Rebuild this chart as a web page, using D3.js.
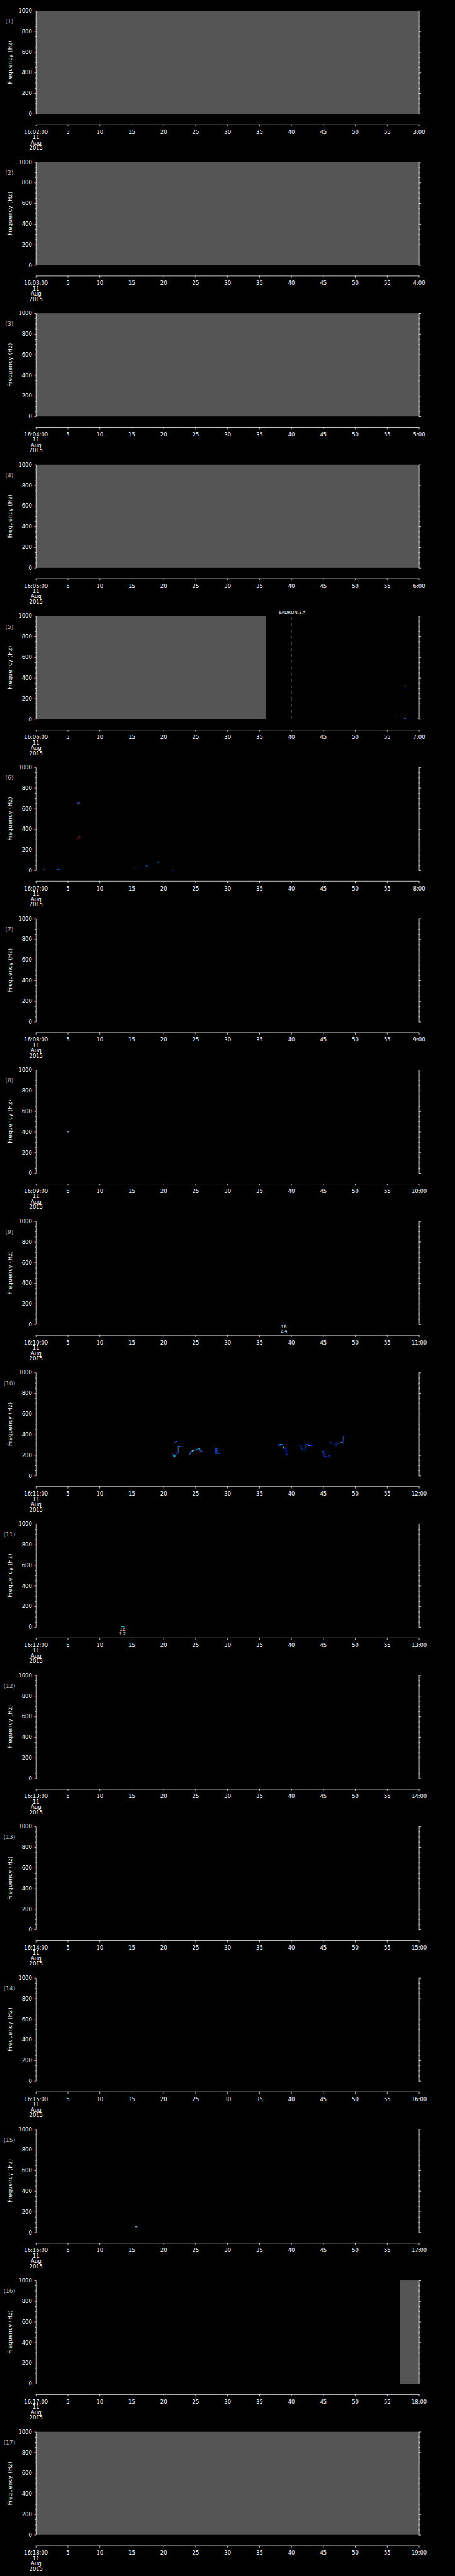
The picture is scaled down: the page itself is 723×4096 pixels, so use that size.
<!DOCTYPE html>
<html>
<head>
<meta charset="utf-8">
<script src="https://cdn.jsdelivr.net/npm/d3@7"></script>
<style>
  html, body { margin: 0; padding: 0; background: #000; }
  svg { display: block; }
  text { font-family: "DejaVu Sans", sans-serif; }
</style>
</head>
<body>
<svg id="chart"></svg>
<script>
// 每个面板的编号、起止时间标签
const panelNames = ["(1)", "(2)", "(3)", "(4)", "(5)", "(6)", "(7)", "(8)", "(9)",
  "(10)", "(11)", "(12)", "(13)", "(14)", "(15)", "(16)", "(17)"];
const startLabels = ["16:02:00", "16:03:00", "16:04:00", "16:05:00", "16:06:00", "16:07:00",
  "16:08:00", "16:09:00", "16:10:00", "16:11:00", "16:12:00", "16:13:00", "16:14:00",
  "16:15:00", "16:16:00", "16:17:00", "16:18:00"];
const endLabels = ["3:00", "4:00", "5:00", "6:00", "7:00", "8:00", "9:00", "10:00", "11:00",
  "12:00", "13:00", "14:00", "15:00", "16:00", "17:00", "18:00", "19:00"];
const dateLines = ["11", "Aug", "2015"];

// x轴刻度（分钟内的秒）与标签
const xTicks = [0, 5, 10, 15, 20, 25, 30, 35, 40, 45, 50, 55, 60];
const xTickLabels = ["", "5", "10", "15", "20", "25", "30", "35", "40", "45", "50", "55", ""];
const yTicks = [0, 200, 400, 600, 800, 1000];

// 无数据区域（灰色）：面板序号, 起, 止
const gaps = [
  { panel: 1, from: 0, to: 60 },
  { panel: 2, from: 0, to: 60 },
  { panel: 3, from: 0, to: 60 },
  { panel: 4, from: 0, to: 60 },
  { panel: 5, from: 0, to: 36 },
  { panel: 16, from: 57, to: 60 },
  { panel: 17, from: 0, to: 60 }
];

// 频谱轨迹：[秒, Hz]
const traces = [
  { panel: 5, color: "#0060ff", pts: [[56.55, 12], [57.2, 12]] },
  { panel: 5, color: "#0080ff", pts: [[57.65, 8], [57.95, 8]] },
  { panel: 5, color: "#ff3000", pts: [[57.72, 324], [57.85, 322]] },
  { panel: 5, color: "#ffff00", pts: [[57.85, 322], [57.95, 321]] },
  { panel: 5, color: "#0000c0", pts: [[59.3, 30], [59.45, 30]] },
  { panel: 5, color: "#00ffff", pts: [[59.9, 5], [60, 5]] },

  { panel: 6, color: "#0080ff", pts: [[6.55, 640], [6.6, 650], [6.75, 655], [6.87, 655]] },
  { panel: 6, color: "#d00000", pts: [[6.46, 305], [6.6, 312], [6.75, 320], [6.92, 327]] },
  { panel: 6, color: "#0060ff", pts: [[1.2, 8], [1.38, 8]] },
  { panel: 6, color: "#0070ff", pts: [[3.29, 8], [3.78, 8]] },
  { panel: 6, color: "#0060ff", pts: [[15.6, 34], [15.85, 34]] },
  { panel: 6, color: "#0070ff", pts: [[17.2, 43], [17.5, 43]] },
  { panel: 6, color: "#0080ff", pts: [[19.05, 73], [19.33, 73]] },
  { panel: 6, color: "#0040ff", pts: [[21.3, 0], [21.5, 0]] },

  { panel: 8, color: "#0000ff", pts: [[4.85, 402], [4.98, 402]] },
  { panel: 8, color: "#ffff00", pts: [[4.98, 400], [5.15, 398]] },

  { panel: 9, color: "#0080ff", pts: [[38.56, 2], [39.05, 2]] },

  { panel: 10, color: "#0060ff", pts: [[21.72, 315], [21.85, 325], [22.13, 332]] },
  { panel: 10, color: "#0070ff", pts: [[21.46, 212], [21.57, 191], [21.84, 191], [21.95, 212], [22.12, 219], [22.3, 219], [22.3, 284], [22.83, 281]] },
  { panel: 10, color: "#00ffff", pts: [[21.57, 191], [21.8, 191]] },
  { panel: 10, color: "#0080ff", pts: [[24.09, 201], [24.29, 236], [24.53, 241], [24.82, 246], [25.11, 252], [25.4, 259], [25.64, 264], [25.75, 245], [26.05, 234]] },
  { panel: 10, color: "#b0ff40", pts: [[24.45, 240], [24.7, 244]] },
  { panel: 10, color: "#00ffff", pts: [[25.5, 262], [25.68, 262]] },
  { panel: 10, color: "#0050ff", pts: [[28.0, 215], [28.12, 215], [28.12, 268], [28.38, 268], [28.38, 215], [28.82, 215]] },
  { panel: 10, color: "#0040ff", pts: [[37.88, 292], [38.1, 292], [38.24, 302], [38.61, 302], [38.79, 265], [39.14, 265], [39.2, 212], [39.49, 198]] },
  { panel: 10, color: "#00ffff", pts: [[38.2, 302], [38.55, 302]] },
  { panel: 10, color: "#00ffff", pts: [[38.72, 278], [38.85, 265]] },
  { panel: 10, color: "#0030ff", pts: [[41.1, 298], [41.54, 298], [41.63, 269], [41.77, 249], [42.18, 249], [42.24, 292], [42.41, 304], [42.56, 304], [42.76, 294], [43.44, 289]] },
  { panel: 10, color: "#00ffff", pts: [[42.68, 295], [42.82, 292]] },
  { panel: 10, color: "#0030ff", pts: [[44.9, 236], [45.1, 236], [45.16, 191], [45.48, 186], [45.78, 186], [45.83, 199], [46.13, 199]] },
  { panel: 10, color: "#00ffff", pts: [[44.9, 236], [45.05, 236]] },
  { panel: 10, color: "#0040ff", pts: [[46.07, 324], [46.27, 315], [46.39, 310]] },
  { panel: 10, color: "#0040ff", pts: [[46.8, 321], [47.03, 295], [47.24, 312], [47.53, 318], [47.74, 318], [48.09, 315], [48.15, 381], [48.38, 384]] },
  { panel: 10, color: "#b0ff40", pts: [[47.74, 320], [47.95, 320]] },

  { panel: 11, color: "#00c0c0", pts: [[13.35, 3], [13.84, 3]] },

  { panel: 15, color: "#70ffb0", pts: [[15.58, 55], [15.9, 52]] },
  { panel: 15, color: "#0040ff", pts: [[15.9, 52], [16.1, 52]] }
];

// 标记线与事件标注
const markers = [{ panel: 5, at: 40, text: "$ADRUN,3,*" }];
const events = [
  { panel: 9, at: 38.84, lines: ["16", "2.4"] },
  { panel: 11, at: 13.58, lines: ["16", "2.2"] }
];

const W = 1024, H = 5802;
const svg = d3.select("#chart")
  .attr("width", W * 0.705)
  .attr("height", H * 0.705)
  .attr("viewBox", `0 0 ${W} ${H}`);

const pitch = H / panelNames.length; // 每个面板的高度
const plotTop = 24, plotH = 232.7, axisGap = 24;
const x = d3.scaleLinear().domain([0, 60]).range([80.7, 944.3]);
const y = d3.scaleLinear().domain([0, 1000]).range([plotH, 0]);
const yMinor = d3.range(0, 1001, 50).filter(v => v % 200 !== 0);

const line = d3.line().x(d => x(d[0])).y(d => y(d[1]));

panelNames.forEach((name, i) => {
  const p = i + 1;
  const g = svg.append("g").attr("transform", `translate(0, ${plotTop + i * pitch})`);

  //灰色无数据区域
  g.selectAll("rect.gap")
    .data(gaps.filter(d => d.panel === p))
    .enter().append("rect")
    .attr("class", "gap")
    .attr("x", d => x(d.from))
    .attr("width", d => x(d.to) - x(d.from))
    .attr("y", 0)
    .attr("height", plotH)
    .attr("fill", "#555555");

  //频谱轨迹
  g.selectAll("path.trace")
    .data(traces.filter(d => d.panel === p))
    .enter().append("path")
    .attr("class", "trace")
    .attr("d", d => line(d.pts))
    .attr("fill", "none")
    .attr("stroke", d => d.color)
    .attr("stroke-width", 1.6);

  //虚线标记
  markers.filter(d => d.panel === p).forEach(m => {
    g.append("line")
      .attr("x1", x(m.at)).attr("x2", x(m.at))
      .attr("y1", 2).attr("y2", plotH)
      .attr("stroke", "#fff").attr("stroke-width", 1.2)
      .attr("stroke-dasharray", "7,7");
    g.append("text")
      .attr("x", x(m.at) - 28.5).attr("y", -8.5)
      .attr("dy", "0.35em")
      .attr("font-size", "10px")
      .attr("fill", "#fff")
      .text(m.text);
  });

  //事件标注
  events.filter(d => d.panel === p).forEach(ev => {
    ev.lines.forEach((t, k) => {
      g.append("text")
        .attr("x", x(ev.at))
        .attr("y", plotH + 5.5 + k * 9.6)
        .attr("dy", "0.35em")
        .attr("text-anchor", "middle")
        .attr("font-size", "10px")
        .attr("fill", "#fff")
        .text(t);
    });
  });

  //左右y轴
  const left = g.append("g").attr("transform", `translate(${x(0)}, 0)`)
    .call(d3.axisLeft(y).tickValues(yTicks).tickSize(3.5).tickSizeOuter(0).tickPadding(5.2)
      .tickFormat(d3.format("d")));
  left.append("g").call(d3.axisLeft(y).tickValues(yMinor).tickSize(2).tickFormat(""))
    .select(".domain").remove();

  const right = g.append("g").attr("transform", `translate(${x(60)}, 0)`)
    .call(d3.axisRight(y).tickValues(yTicks).tickSize(4.7).tickSizeOuter(0).tickFormat(""));
  right.append("g").call(d3.axisRight(y).tickValues(yMinor).tickSize(2.3).tickFormat(""))
    .select(".domain").remove();

  //x轴
  const xAxis = g.append("g").attr("transform", `translate(0, ${plotH + axisGap})`)
    .call(d3.axisBottom(x).tickValues(xTicks).tickSize(4.5).tickSizeOuter(0).tickPadding(8)
      .tickFormat((d, k) => k === 0 ? startLabels[i] : k === xTicks.length - 1 ? endLabels[i] : xTickLabels[k]));

  //第一个刻度下方的日期
  const firstTick = xAxis.select(".tick text");
  dateLines.forEach(t => {
    firstTick.append("tspan").attr("x", 0).attr("dy", "1em").text(t);
  });

  g.selectAll(".domain, .tick line")
    .attr("stroke", "#fff")
    .attr("stroke-width", 1.1);
  g.selectAll(".tick text")
    .attr("fill", "#fff")
    .attr("font-size", "12px")
    .attr("font-family", "DejaVu Sans, sans-serif");

  //面板编号
  g.append("text")
    .attr("x", 21).attr("y", 24)
    .attr("dy", "0.35em")
    .attr("text-anchor", "middle")
    .attr("font-size", "13px")
    .attr("fill", "#b8b8b8")
    .text(name);

  //y轴标题
  g.append("text")
    .attr("transform", `translate(23, 116) rotate(-90)`)
    .attr("dy", "0.35em")
    .attr("text-anchor", "middle")
    .attr("font-size", "12px")
    .attr("letter-spacing", "0.6px")
    .attr("fill", "#fff")
    .text("Frequency (Hz)");
});
</script>
</body>
</html>
